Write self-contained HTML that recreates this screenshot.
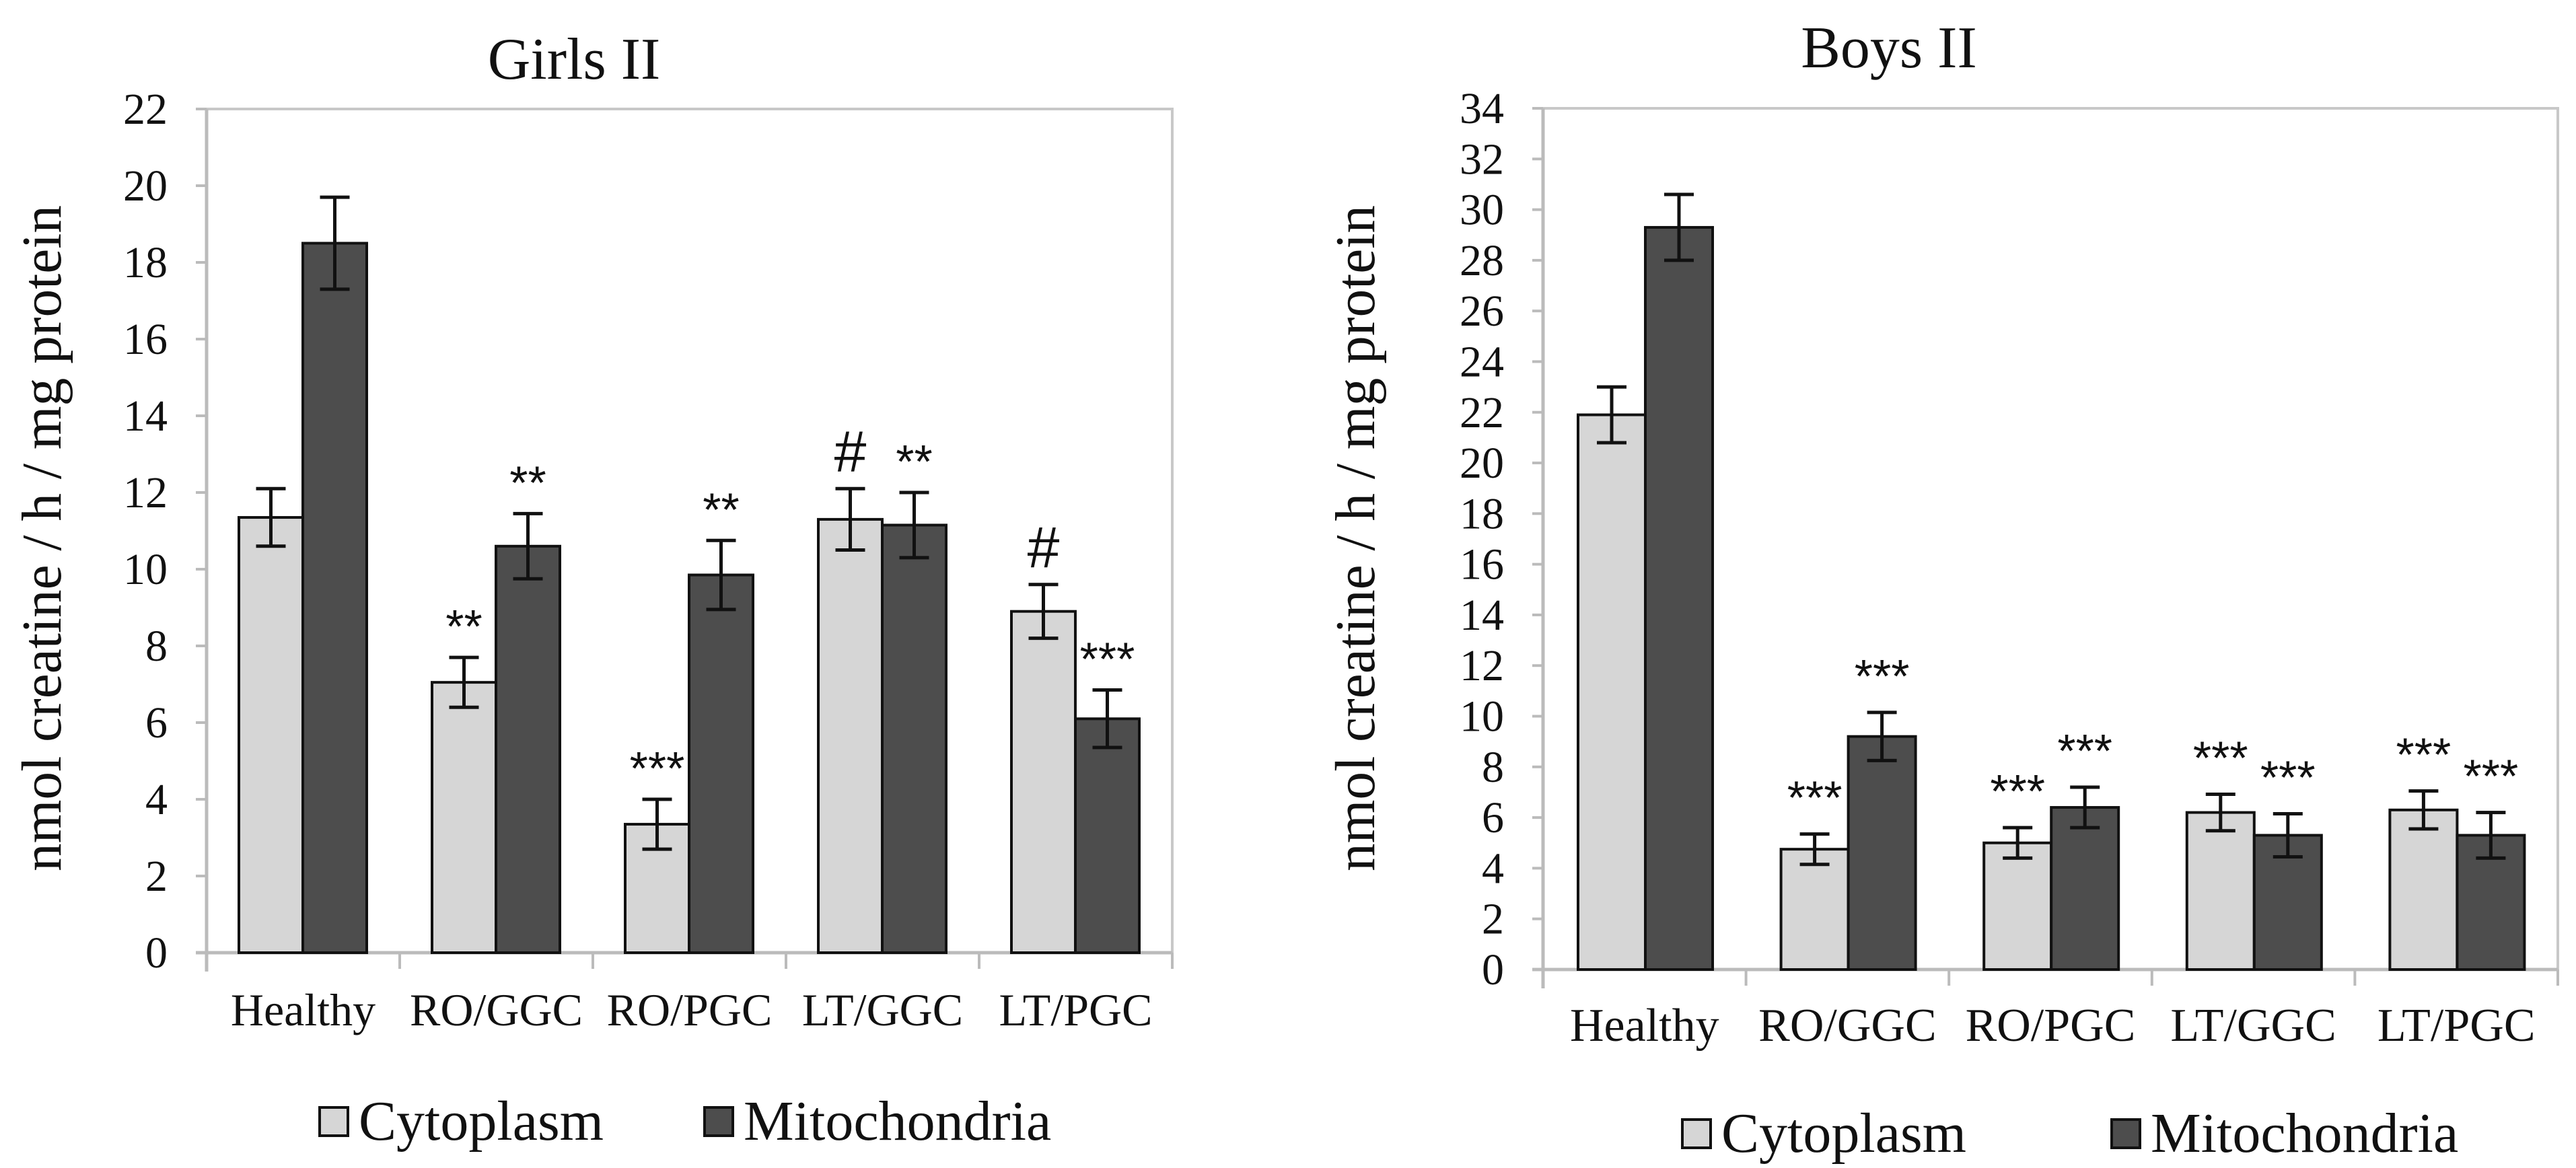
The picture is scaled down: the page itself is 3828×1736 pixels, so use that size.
<!DOCTYPE html>
<html><head><meta charset="utf-8"><style>
html,body{margin:0;padding:0;background:#fff;}
svg{display:block;font-family:"Liberation Serif",serif;}
svg text{font-family:"Liberation Serif",serif;}
svg text.mark{font-family:"Liberation Sans",sans-serif;}
</style></head><body>
<svg id="chart" width="3828" height="1736" viewBox="0 0 3828 1736" xmlns="http://www.w3.org/2000/svg"></svg>
<script>
const categories = ["Healthy","RO/GGC","RO/PGC","LT/GGC","LT/PGC"];
const girlsCyto = [11.35,7.05,3.35,11.3,8.9];
const girlsCytoErr = [0.75,0.65,0.65,0.8,0.7];
const girlsMito = [18.5,10.6,9.85,11.15,6.1];
const girlsMitoErr = [1.2,0.85,0.9,0.85,0.75];
const girlsCytoMark = ["","**","***","#","#"];
const girlsMitoMark = ["","**","**","**","***"];
const girlsTicks = [0,2,4,6,8,10,12,14,16,18,20,22];
const boysCyto = [21.9,4.75,5.0,6.2,6.3];
const boysCytoErr = [1.1,0.6,0.6,0.72,0.75];
const boysMito = [29.3,9.2,6.4,5.3,5.3];
const boysMitoErr = [1.3,0.95,0.8,0.85,0.9];
const boysCytoMark = ["","***","***","***","***"];
const boysMitoMark = ["","***","***","***","***"];
const boysTicks = [0,2,4,6,8,10,12,14,16,18,20,22,24,26,28,30,32,34];

const NS="http://www.w3.org/2000/svg";
const svg=document.getElementById('chart');
const SERIF='"Liberation Serif", serif';
function mk(tag,attrs,parent,text){const e=document.createElementNS(NS,tag);for(const k in attrs)e.setAttribute(k,attrs[k]);if(tag==='text'&&!attrs['font-family'])e.setAttribute('font-family',SERIF);if(text!==undefined)e.textContent=text;(parent||svg).appendChild(e);return e;}

function drawChart(o){
  const g=mk('g',{});
  
  
  const yMax=o.ticks[o.ticks.length-1];
  const y=v=>o.y0-(v/yMax)*(o.y0-o.yTop);
  const gw=(o.x1-o.x0)/categories.length;
  const x=i=>o.x0+i*gw;
  const fr=mk('rect',{x:o.x0,y:o.yTop,width:o.x1-o.x0,height:o.y0-o.yTop,fill:'none',stroke:'#c8c8c8','stroke-width':4},g);
  
  
  const t=mk('text',{x:o.titleX,y:o.titleY,'font-size':88,'text-anchor':'middle',fill:'#111'},g,o.title);
  
  
  o.ticks.forEach(v=>{
    const ln=mk('line',{x1:o.x0-16,x2:o.x0,y1:y(v),y2:y(v),stroke:'#bbb','stroke-width':4},g);
    
    
    const tl=mk('text',{x:o.x0-58,y:y(v)+22,'font-size':66,'text-anchor':'end',fill:'#111'},g,String(v));
    
    
  });
  const ya=mk('line',{x1:o.x0,x2:o.x0,y1:o.yTop,y2:o.y0+28,stroke:'#bbb','stroke-width':5},g);
  
  
  const xa=mk('line',{x1:o.x0-16,x2:o.x1,y1:o.y0,y2:o.y0,stroke:'#bbb','stroke-width':5},g);
  
  
  for(let i=1;i<=categories.length;i++){
    const tk=mk('line',{x1:x(i),x2:x(i),y1:o.y0,y2:o.y0+24,stroke:'#bbb','stroke-width':4},g);
    
    
  }
  const yt=mk('text',{transform:`translate(${o.yTitleX},800) rotate(-90)`,'font-size':84,'text-anchor':'middle',fill:'#111',textLength:990,lengthAdjust:'spacingAndGlyphs'},g,'nmol creatine / h / mg protein');
  
  
  const series=[
    {vals:o.cyto,err:o.cytoErr,mark:o.cytoMark,fill:'#d6d6d6',off:0,name:'cytoplasm'},
    {vals:o.mito,err:o.mitoErr,mark:o.mitoMark,fill:'#4d4d4d',off:1,name:'mitochondria'}];
  categories.forEach((c,i)=>{
    series.forEach(s=>{
      const bx=x(i)+o.pad+s.off*o.bw;
      const b=mk('rect',{x:bx,y:y(s.vals[i]),width:o.bw,height:o.y0-y(s.vals[i]),fill:s.fill,stroke:'#111','stroke-width':4},g);
      
      
      const cx=bx+o.bw/2, hi=y(s.vals[i]+s.err[i]), lo=y(s.vals[i]-s.err[i]);
      const eb=mk('path',{d:`M${cx},${hi}V${lo}M${cx-22},${hi}H${cx+22}M${cx-22},${lo}H${cx+22}`,stroke:'#111','stroke-width':5,fill:'none'},g);
      
      
      if(s.mark[i]){
        const isHash=s.mark[i]==='#';
        const m=mk('text',{x:cx,y:hi-(isHash?26:o.starOff),'font-size':isHash?86:70,'text-anchor':'middle',fill:'#111','font-family':'"Liberation Sans",sans-serif','class':'mark'},g,s.mark[i]);
        
        
      }
    });
    const cl=mk('text',{x:x(i)+gw/2,y:o.labY,'font-size':o.labFont,'text-anchor':'middle',fill:'#111'},g,c);
    
    
  });
  const lg=mk('g',{},g);
  
  
  [[o.legC,'#d6d6d6','Cytoplasm'],[o.legM,'#4d4d4d','Mitochondria']].forEach(([lx,f,txt])=>{
    const e=mk('g',{},lg);
    
    
    mk('rect',{x:lx,y:o.legY-22,width:42,height:42,fill:f,stroke:'#111','stroke-width':4},e);
    mk('text',{x:lx+58,y:o.legY+26,'font-size':84,fill:'#111'},e,txt);
  });
}

drawChart({name:'girls-chart',title:'Girls II',titleX:853,titleY:117,x0:307,x1:1742,yTop:162,y0:1416,ticks:girlsTicks,
  cyto:girlsCyto,cytoErr:girlsCytoErr,mito:girlsMito,mitoErr:girlsMitoErr,cytoMark:girlsCytoMark,mitoMark:girlsMitoMark,
  pad:48,bw:95,yTitleX:90,labY:1524,labFont:68,legY:1668,legC:475,legM:1047,starOff:22});
drawChart({name:'boys-chart',title:'Boys II',titleX:2807,titleY:100,x0:2293,x1:3801,yTop:161,y0:1441,ticks:boysTicks,
  cyto:boysCyto,cytoErr:boysCytoErr,mito:boysMito,mitoErr:boysMitoErr,cytoMark:boysCytoMark,mitoMark:boysMitoMark,
  pad:52,bw:100,yTitleX:2042,labY:1547,labFont:70,legY:1686,legC:2500,legM:3138,starOff:30});
</script>
</body></html>
